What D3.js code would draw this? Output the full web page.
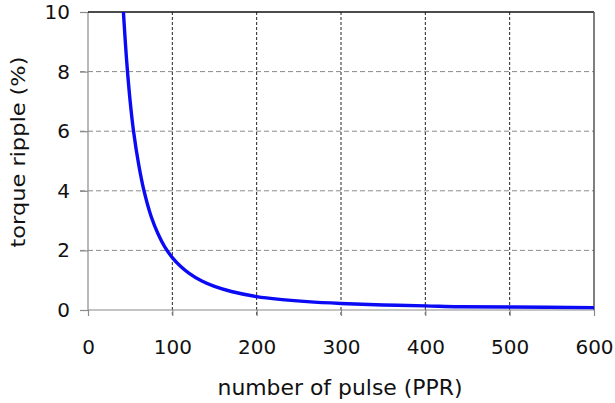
<!DOCTYPE html>
<html><head><meta charset="utf-8">
<script src="https://cdn.jsdelivr.net/npm/d3@7/dist/d3.min.js"></script>
<style>body{margin:0;background:#fff}svg{display:block}text{font-family:"DejaVu Sans",Verdana,sans-serif;fill:#111}</style>
</head><body><svg id="c" width="615" height="403"></svg>
<script>
const pulses = [42,46,50,54,60,66,75,83,91,100,110,120,135,150,170,200,230,260,300,350,400,440,500,600];
const ripple = [10,8.3,7.0,6.0,4.9,4.05,3.13,2.56,2.12,1.76,1.46,1.23,0.97,0.79,0.62,0.45,0.35,0.28,0.22,0.17,0.14,0.11,0.1,0.08];
const xTicks = [0,100,200,300,400,500,600];
const yTicks = [0,2,4,6,8,10];
const xLabel = "number of pulse (PPR)";
const yLabel = "torque ripple (%)";

const svg = d3.select("#c");
const L=88,R=594,T=12,B=310;
const x = d3.scaleLinear().domain([0,600]).range([L,R]);
const y = d3.scaleLinear().domain([0,10]).range([B,T]);

// horizontal grid (gray dashed)
svg.append("g").selectAll("line").data(yTicks.filter(d=>d>0&&d<10)).join("line")
  .attr("x1",L-8).attr("x2",R).attr("y1",d=>y(d)).attr("y2",d=>y(d))
  .attr("stroke","#8a8a8a").attr("stroke-width",1).attr("stroke-dasharray","5,3");
// vertical grid (black dashed)
svg.append("g").selectAll("line").data(xTicks.filter(d=>d>0&&d<600)).join("line")
  .attr("x1",d=>x(d)).attr("x2",d=>x(d)).attr("y1",T).attr("y2",B+6)
  .attr("stroke","#222").attr("stroke-width",1).attr("stroke-dasharray","3,2");

// axes
const xa = svg.append("g").attr("transform",`translate(0,${B})`)
  .call(d3.axisBottom(x).tickValues(xTicks).tickSize(6).tickPadding(24).tickFormat(d3.format("d")));
const ya = svg.append("g").attr("transform",`translate(${L},0)`)
  .call(d3.axisLeft(y).tickValues(yTicks).tickSize(8).tickPadding(10).tickFormat(d3.format("d")));
[xa,ya].forEach(a=>{
  a.select(".domain").attr("stroke","#8a8a8a").attr("stroke-width",1.2);
  a.selectAll(".tick line").attr("stroke","#8a8a8a").attr("stroke-width",1.2);
  a.selectAll("text").attr("font-size",20).attr("fill","#111").style("font-family",'"DejaVu Sans",Verdana,sans-serif');
});
ya.select(".domain").attr("d",`M0,${T}V${B}`);
xa.select(".domain").attr("d",`M${L},0H${R}`);

// top and right borders
svg.append("line").attr("x1",L).attr("x2",R).attr("y1",T).attr("y2",T).attr("stroke","#111").attr("stroke-width",1.5);
svg.append("line").attr("x1",R).attr("x2",R).attr("y1",T).attr("y2",B).attr("stroke","#555").attr("stroke-width",1.5);

// curve
const data = pulses.map((p,i)=>[p,ripple[i]]);
svg.append("path").datum(data)
  .attr("d",d3.line().x(d=>x(d[0])).y(d=>y(d[1])).curve(d3.curveCatmullRom.alpha(0.5)))
  .attr("fill","none").attr("stroke","#0a0af5").attr("stroke-width",3.4).attr("stroke-linejoin","round");

// labels
svg.append("text").attr("x",340).attr("y",395).attr("text-anchor","middle").attr("font-size",21)
  .attr("textLength",245).attr("lengthAdjust","spacingAndGlyphs").text(xLabel);
svg.append("text").attr("transform",`translate(25,152) rotate(-90)`).attr("text-anchor","middle").attr("font-size",20)
  .attr("textLength",191).attr("lengthAdjust","spacingAndGlyphs").text(yLabel);
</script></body></html>
